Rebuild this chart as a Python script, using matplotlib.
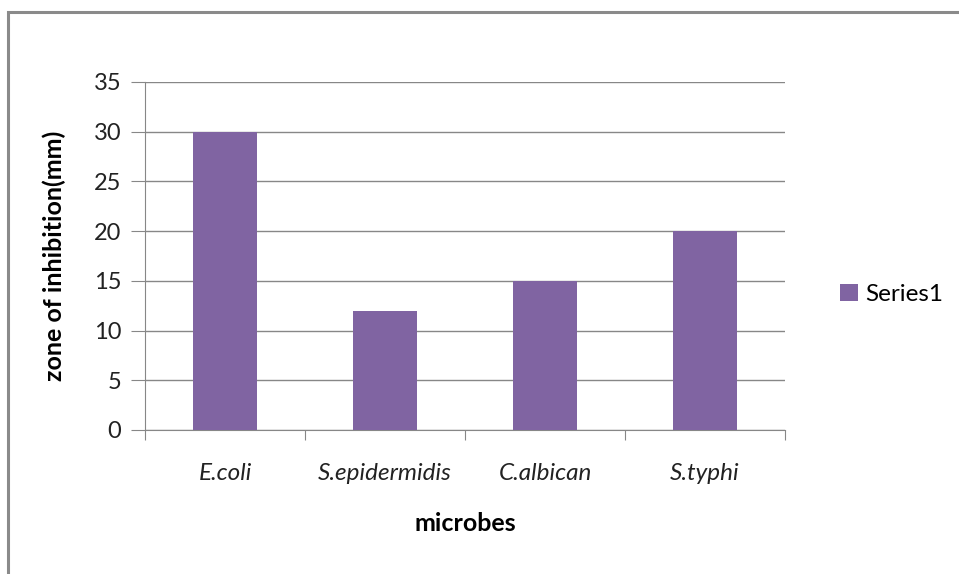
import numpy as np
import matplotlib.pyplot as plt
from matplotlib.patches import Rectangle

plt.rcParams['font.family'] = ['Lato', 'DejaVu Sans']

# data
microbes = ['E.coli', 'S.epidermidis', 'C.albican', 'S.typhi']
zone = [30, 12, 15, 20]
yticks = [0, 5, 10, 15, 20, 25, 30, 35]

W, H = 959, 574
fig = plt.figure(figsize=(W / 100, H / 100), dpi=100)

# outer chart frame (runs off the right/bottom edge)
fig.patches.append(Rectangle((8 / W, -0.05), 1.2, 1 - 12 / H + 0.05,
                             transform=fig.transFigure, fill=False,
                             edgecolor='#8a8a8a', lw=2.2))

ax = fig.add_axes([145 / W, 1 - 430 / H, 640 / W, 348 / H])
x = np.arange(len(microbes))
ax.bar(x, zone, width=0.4, color='#8064A2', label='Series1', zorder=3)

ax.set_xlim(-0.5, len(microbes) - 0.5)
ax.set_ylim(0, 35)
ax.set_yticks(yticks)
ax.set_yticklabels([str(t) for t in yticks], fontsize=17, color='#222222')
ax.yaxis.grid(True, color='#878787', lw=1, zorder=0)

# category boundary ticks on x axis
ax.set_xticks(np.arange(-0.5, len(microbes)), minor=False)
ax.set_xticklabels([])
ax.set_xticks(x, minor=True)
ax.set_xticklabels(microbes, minor=True, fontsize=17.5, style='italic', color='#222222')
ax.tick_params(axis='x', which='major', length=7, color='#878787', direction='out')
ax.tick_params(axis='x', which='minor', length=0, pad=24)
ax.tick_params(axis='y', length=10, color='#878787', pad=7)

for s in ['top', 'right']:
    ax.spines[s].set_visible(False)
ax.spines['left'].set_color('#878787')
ax.spines['bottom'].set_color('#878787')

ax.set_xlabel('microbes', fontsize=18, fontweight='bold', labelpad=20)
ax.set_ylabel('zone of inhibition(mm)', fontsize=18, fontweight='bold', labelpad=20)

ax.legend(loc='center left', bbox_to_anchor=(1.052, 0.39), frameon=False,
          fontsize=17.5, handlelength=0.75, handleheight=0.75, handletextpad=0.3)

fig.savefig('out.png', dpi=100)
